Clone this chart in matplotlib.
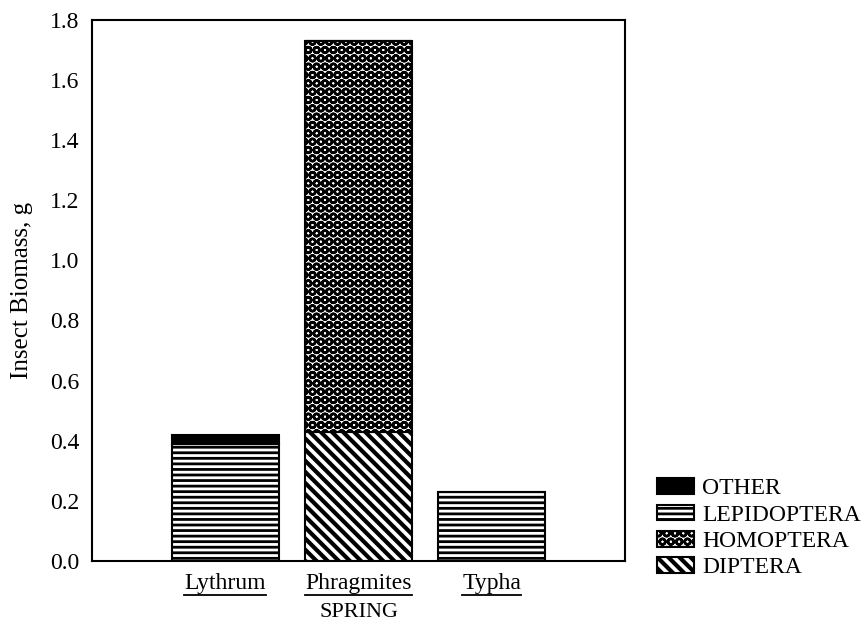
import matplotlib
matplotlib.use("Agg")
from matplotlib import pyplot as plt
from matplotlib.lines import Line2D
import numpy as np

sites = ["Lythrum", "Phragmites", "Typha"]
diptera = [0.0, 0.43, 0.0]
homoptera = [0.0, 1.30, 0.0]
lepidoptera = [0.39, 0.0, 0.23]
other = [0.03, 0.0, 0.0]
yticks = [0.0, 0.2, 0.4, 0.6, 0.8, 1.0, 1.2, 1.4, 1.6, 1.8]

plt.rcParams["font.family"] = ["Liberation Serif", "DejaVu Serif"]

fig = plt.figure(figsize=(8.67, 6.28), dpi=100)
ax = fig.add_axes([0.106, 0.107, 0.615, 0.861])

x = np.arange(len(sites))
w = 0.8
b1 = np.array(diptera)
b2 = b1 + np.array(homoptera)
b3 = b2 + np.array(lepidoptera)


def hbar(vals, bottom, hatch, hlw, face="white"):
    with plt.rc_context({"hatch.linewidth": hlw}):
        bars = ax.bar(x, vals, w, bottom=bottom, color=face, edgecolor="black",
                      hatch=hatch, linewidth=1.5)
        for p in bars:
            if hasattr(p, "set_hatch_linewidth"):
                p.set_hatch_linewidth(hlw)
    return bars


h_dip = hbar(diptera, 0, "\\\\\\", 3.0)
h_hom = hbar(homoptera, b1, "OO", 1.8)
h_lep = hbar(lepidoptera, b2, "---", 2.0)
h_oth = hbar(other, b3, None, 1.0, face="black")

ax.set_xlim(-1, 3)
ax.set_ylim(0, 1.8)
ax.set_yticks(yticks)
ax.set_yticklabels(["%.1f" % v for v in yticks], fontsize=17)
ax.set_xticks(x)
ax.set_xticklabels(sites, fontsize=17)
ax.tick_params(length=0, pad=9)
for s in ax.spines.values():
    s.set_linewidth(1.5)
ax.set_xlabel("SPRING", fontsize=16, labelpad=6)
ax.set_ylabel("Insect Biomass, g", fontsize=18, labelpad=12)

leg = fig.legend([h_oth, h_lep, h_hom, h_dip], ["OTHER", "LEPIDOPTERA", "HOMOPTERA", "DIPTERA"],
                 loc="lower left", bbox_to_anchor=(0.747, 0.064), frameon=False, fontsize=17,
                 handlelength=1.57, handleheight=0.64, handletextpad=0.35, labelspacing=0.22,
                 borderaxespad=0)
for p, hlw in zip(leg.get_patches(), [1.0, 2.0, 1.8, 3.0]):
    if hasattr(p, "set_hatch_linewidth"):
        p.set_hatch_linewidth(hlw)

# underline the site names
fig.canvas.draw()
inv = fig.transFigure.inverted()
for t in ax.get_xticklabels():
    bb = t.get_window_extent()
    p0 = inv.transform((bb.x0, bb.y0 - 1))
    p1 = inv.transform((bb.x1, bb.y0 - 1))
    fig.add_artist(Line2D([p0[0], p1[0]], [p0[1], p1[1]], color="black", linewidth=1.3))

fig.savefig("out.png", dpi=100)
